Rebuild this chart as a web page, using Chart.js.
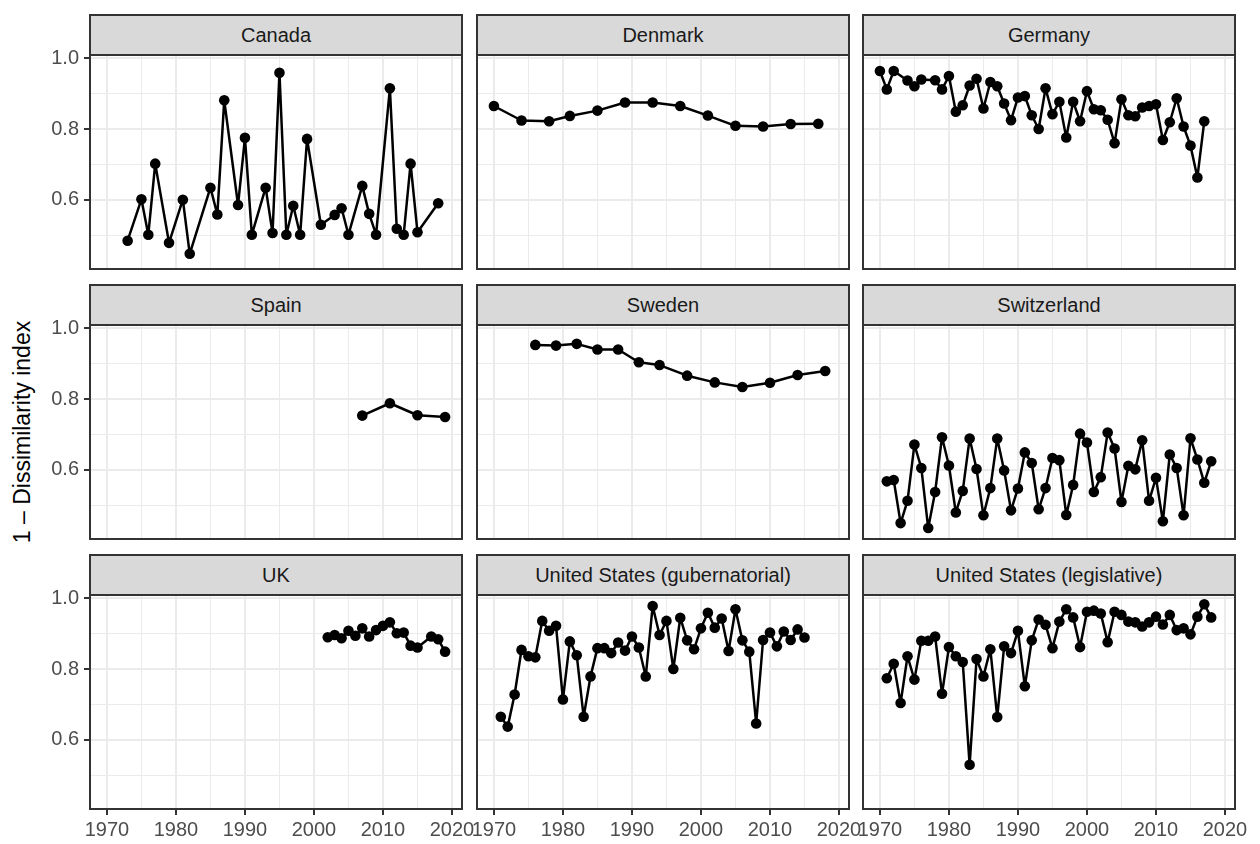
<!DOCTYPE html>
<html>
<head>
<meta charset="utf-8">
<script src="https://cdn.jsdelivr.net/npm/chart.js@4.4.1/dist/chart.umd.min.js"></script>
<style>
body { margin: 0; background: #fff; width: 1260px; height: 844px; position: relative; overflow: hidden; font-family: "Liberation Sans", Arial, sans-serif; }
canvas { position: absolute; }
.strip { position: absolute; box-sizing: border-box; background: #D9D9D9; border: 2px solid #333333; color: #1A1A1A; font-size: 20px; display: flex; align-items: center; justify-content: center; }
#ytitle { position: absolute; width: 400px; height: 30px; line-height: 30px; text-align: center; font-size: 23px; color: #000; transform: rotate(-90deg); }
</style>
</head>
<body>
<div id="ytitle">1 – Dissimilarity index</div>
<script>
/* datos */
const canadaYears = [1973,1975,1976,1977,1979,1981,1982,1985,1986,1987,1989,1990,1991,1993,1994,1995,1996,1997,1998,1999,2001,2003,2004,2005,2007,2008,2009,2011,2012,2013,2014,2015,2018]
const canadaValues = [0.484,0.601,0.501,0.702,0.478,0.600,0.447,0.634,0.558,0.881,0.585,0.775,0.501,0.634,0.506,0.959,0.501,0.583,0.501,0.772,0.529,0.557,0.576,0.501,0.639,0.560,0.501,0.915,0.518,0.501,0.702,0.508,0.590]

const denmarkYears = [1970,1974,1978,1981,1985,1989,1993,1997,2001,2005,2009,2013,2017]
const denmarkValues = [0.865,0.824,0.822,0.837,0.852,0.875,0.875,0.865,0.838,0.809,0.807,0.814,0.815]

const germanyYears = [1970,1971,1972,1974,1975,1976,1978,1979,1980,1981,1982,1983,1984,1985,1986,1987,1988,1989,1990,1991,1992,1993,1994,1995,1996,1997,1998,1999,2000,2001,2002,2003,2004,2005,2006,2007,2008,2009,2010,2011,2012,2013,2014,2015,2016,2017]
const germanyValues = [0.964,0.912,0.964,0.937,0.921,0.940,0.938,0.912,0.950,0.849,0.867,0.923,0.942,0.858,0.933,0.921,0.872,0.825,0.889,0.893,0.839,0.800,0.915,0.842,0.877,0.776,0.877,0.822,0.907,0.856,0.853,0.826,0.760,0.884,0.839,0.836,0.861,0.865,0.870,0.769,0.819,0.887,0.807,0.753,0.663,0.822]

const spainYears = [2007,2011,2015,2019]
const spainValues = [0.753,0.788,0.754,0.749]

const swedenYears = [1976,1979,1982,1985,1988,1991,1994,1998,2002,2006,2010,2014,2018]
const swedenValues = [0.953,0.951,0.956,0.940,0.940,0.904,0.896,0.866,0.847,0.834,0.846,0.868,0.879]

const switzerlandYears = [1971,1972,1973,1974,1975,1976,1977,1978,1979,1980,1981,1982,1983,1984,1985,1986,1987,1988,1989,1990,1991,1992,1993,1994,1995,1996,1997,1998,1999,2000,2001,2002,2003,2004,2005,2006,2007,2008,2009,2010,2011,2012,2013,2014,2015,2016,2017,2018]
const switzerlandValues = [0.567,0.571,0.449,0.512,0.671,0.605,0.435,0.537,0.692,0.612,0.479,0.540,0.688,0.602,0.471,0.548,0.688,0.598,0.485,0.547,0.649,0.619,0.488,0.548,0.633,0.627,0.472,0.557,0.702,0.677,0.537,0.579,0.705,0.660,0.509,0.611,0.601,0.683,0.512,0.577,0.454,0.643,0.605,0.471,0.689,0.629,0.563,0.624]

const ukYears = [2002,2003,2004,2005,2006,2007,2008,2009,2010,2011,2012,2013,2014,2015,2017,2018,2019]
const ukValues = [0.890,0.896,0.887,0.908,0.894,0.915,0.892,0.910,0.922,0.932,0.901,0.903,0.866,0.861,0.892,0.884,0.849]

const usGovYears = [1971,1972,1973,1974,1975,1976,1977,1978,1979,1980,1981,1982,1983,1984,1985,1986,1987,1988,1989,1990,1991,1992,1993,1994,1995,1996,1997,1998,1999,2000,2001,2002,2003,2004,2005,2006,2007,2008,2009,2010,2011,2012,2013,2014,2015]
const usGovValues = [0.665,0.637,0.728,0.854,0.836,0.833,0.936,0.908,0.922,0.714,0.878,0.839,0.665,0.779,0.859,0.859,0.845,0.875,0.852,0.892,0.861,0.779,0.978,0.896,0.936,0.800,0.945,0.881,0.856,0.915,0.959,0.917,0.943,0.851,0.969,0.881,0.849,0.646,0.882,0.903,0.864,0.906,0.882,0.912,0.889]

const usLegYears = [1971,1972,1973,1974,1975,1976,1977,1978,1979,1980,1981,1982,1983,1984,1985,1986,1987,1988,1989,1990,1991,1992,1993,1994,1995,1996,1997,1998,1999,2000,2001,2002,2003,2004,2005,2006,2007,2008,2009,2010,2011,2012,2013,2014,2015,2016,2017,2018]
const usLegValues = [0.774,0.815,0.704,0.836,0.770,0.880,0.880,0.892,0.730,0.862,0.836,0.820,0.529,0.828,0.779,0.856,0.664,0.864,0.845,0.908,0.751,0.881,0.940,0.925,0.859,0.934,0.969,0.946,0.862,0.962,0.965,0.957,0.876,0.962,0.953,0.934,0.932,0.920,0.932,0.948,0.926,0.953,0.910,0.915,0.898,0.948,0.983,0.946]

const panelNames = ["Canada","Denmark","Germany","Spain","Sweden","Switzerland","UK","United States (gubernatorial)","United States (legislative)"]
const panelYears = [canadaYears,denmarkYears,germanyYears,spainYears,swedenYears,switzerlandYears,ukYears,usGovYears,usLegYears]
const panelValues = [canadaValues,denmarkValues,germanyValues,spainValues,swedenValues,switzerlandValues,ukValues,usGovValues,usLegValues]

/* ticks */
const xMajor = [1970,1980,1990,2000,2010,2020]
const xMinor = [1975,1985,1995,2005,2015]
const yMajor = [0.6,0.8,1.0]
const yMinor = [0.5,0.7,0.9]

/* medidas de los paneles */
const colLeft = [90,477,863]
const rowTop = [55,325,595]
const panelW = 372
const panelH = 214
const xMin = 1967.55, xMax = 2021.45
const yMin = 0.404, yMax = 1.0093
const fontFam = '"Liberation Sans", Arial, sans-serif'

const yt = document.querySelector("#ytitle")
yt.style.left = (22 - 200) + "px"
yt.style.top = (432 - 15) + "px"

const panelBorder = {
    id: "panelBorder",
    afterDraw(chart) {
        const ctx = chart.ctx
        const a = chart.chartArea
        ctx.save()
        ctx.strokeStyle = "#333333"
        ctx.lineWidth = 2
        ctx.strokeRect(a.left, a.top, a.right - a.left, a.bottom - a.top)
        ctx.restore()
    }
}

panelNames.forEach((name, i) => {
    const c = i % 3
    const r = Math.floor(i / 3)
    const left = c == 0
    const bottom = r == 2

    const axisW = left ? 90 : 0
    const padL = left ? 0 : 30
    const padR = 30
    const padT = 12
    const padB = bottom ? 0 : 12
    const axisH = bottom ? 844 - (rowTop[2] + panelH) : 0

    // tira con el nombre
    const strip = document.createElement("div")
    strip.className = "strip"
    strip.textContent = name
    strip.style.left = (colLeft[c] - 1) + "px"
    strip.style.top = (rowTop[r] - 41) + "px"
    strip.style.width = (panelW + 2) + "px"
    strip.style.height = "42px"
    document.body.appendChild(strip)

    const canvas = document.createElement("canvas")
    canvas.width = axisW + padL + panelW + padR
    canvas.height = padT + panelH + padB + axisH
    canvas.style.left = (colLeft[c] - axisW - padL) + "px"
    canvas.style.top = (rowTop[r] - padT) + "px"
    document.body.appendChild(canvas)

    const points = panelYears[i].map((yr, k) => ({ x: yr, y: panelValues[i][k] }))

    new Chart(canvas.getContext("2d"), {
        type: "line",
        data: {
            datasets: [
                {
                    data: points,
                    borderColor: "#000000",
                    borderWidth: 2.5,
                    borderJoinStyle: "round",
                    borderCapStyle: "round",
                    pointRadius: 5.3,
                    pointBackgroundColor: "#000000",
                    pointBorderWidth: 0,
                    tension: 0,
                },
            ]
        },
        options: {
            responsive: false,
            animation: false,
            devicePixelRatio: 1,
            layout: { padding: { left: padL, right: padR, top: padT, bottom: padB } },
            plugins: { legend: { display: false }, tooltip: { enabled: false } },
            scales: {
                x: {
                    type: "linear",
                    min: xMin,
                    max: xMax,
                    afterBuildTicks: s => { s.ticks = xMajor.concat(xMinor).sort((a, b) => a - b).map(v => ({ value: v })) },
                    afterFit: s => { s.height = axisH; s.paddingLeft = 0; s.paddingRight = 0 },
                    border: { display: false },
                    grid: {
                        color: "#EBEBEB",
                        lineWidth: ctx => xMajor.includes(ctx.tick.value) ? 2 : 1,
                        drawTicks: bottom,
                        tickLength: 6,
                        tickWidth: 2,
                        tickColor: ctx => xMajor.includes(ctx.tick.value) ? "#333333" : "rgba(0,0,0,0)",
                    },
                    ticks: {
                        display: bottom,
                        autoSkip: false,
                        maxRotation: 0,
                        padding: 3,
                        color: "#4D4D4D",
                        font: { size: 20, family: fontFam },
                        callback: v => xMajor.includes(v) ? String(v) : "",
                    },
                },
                y: {
                    type: "linear",
                    min: yMin,
                    max: yMax,
                    afterBuildTicks: s => { s.ticks = yMinor.concat(yMajor).sort((a, b) => a - b).map(v => ({ value: v })) },
                    afterFit: s => { s.width = axisW; s.paddingTop = 0; s.paddingBottom = 0 },
                    border: { display: false },
                    grid: {
                        color: "#EBEBEB",
                        lineWidth: ctx => yMajor.includes(ctx.tick.value) ? 2 : 1,
                        drawTicks: left,
                        tickLength: 6,
                        tickWidth: 2,
                        tickColor: ctx => yMajor.includes(ctx.tick.value) ? "#333333" : "rgba(0,0,0,0)",
                    },
                    ticks: {
                        display: left,
                        autoSkip: false,
                        padding: 5,
                        color: "#4D4D4D",
                        font: { size: 20, family: fontFam },
                        callback: v => yMajor.includes(v) ? v.toFixed(1) : "",
                    },
                },
            },
        },
        plugins: [panelBorder],
    })
})
</script>
</body>
</html>
